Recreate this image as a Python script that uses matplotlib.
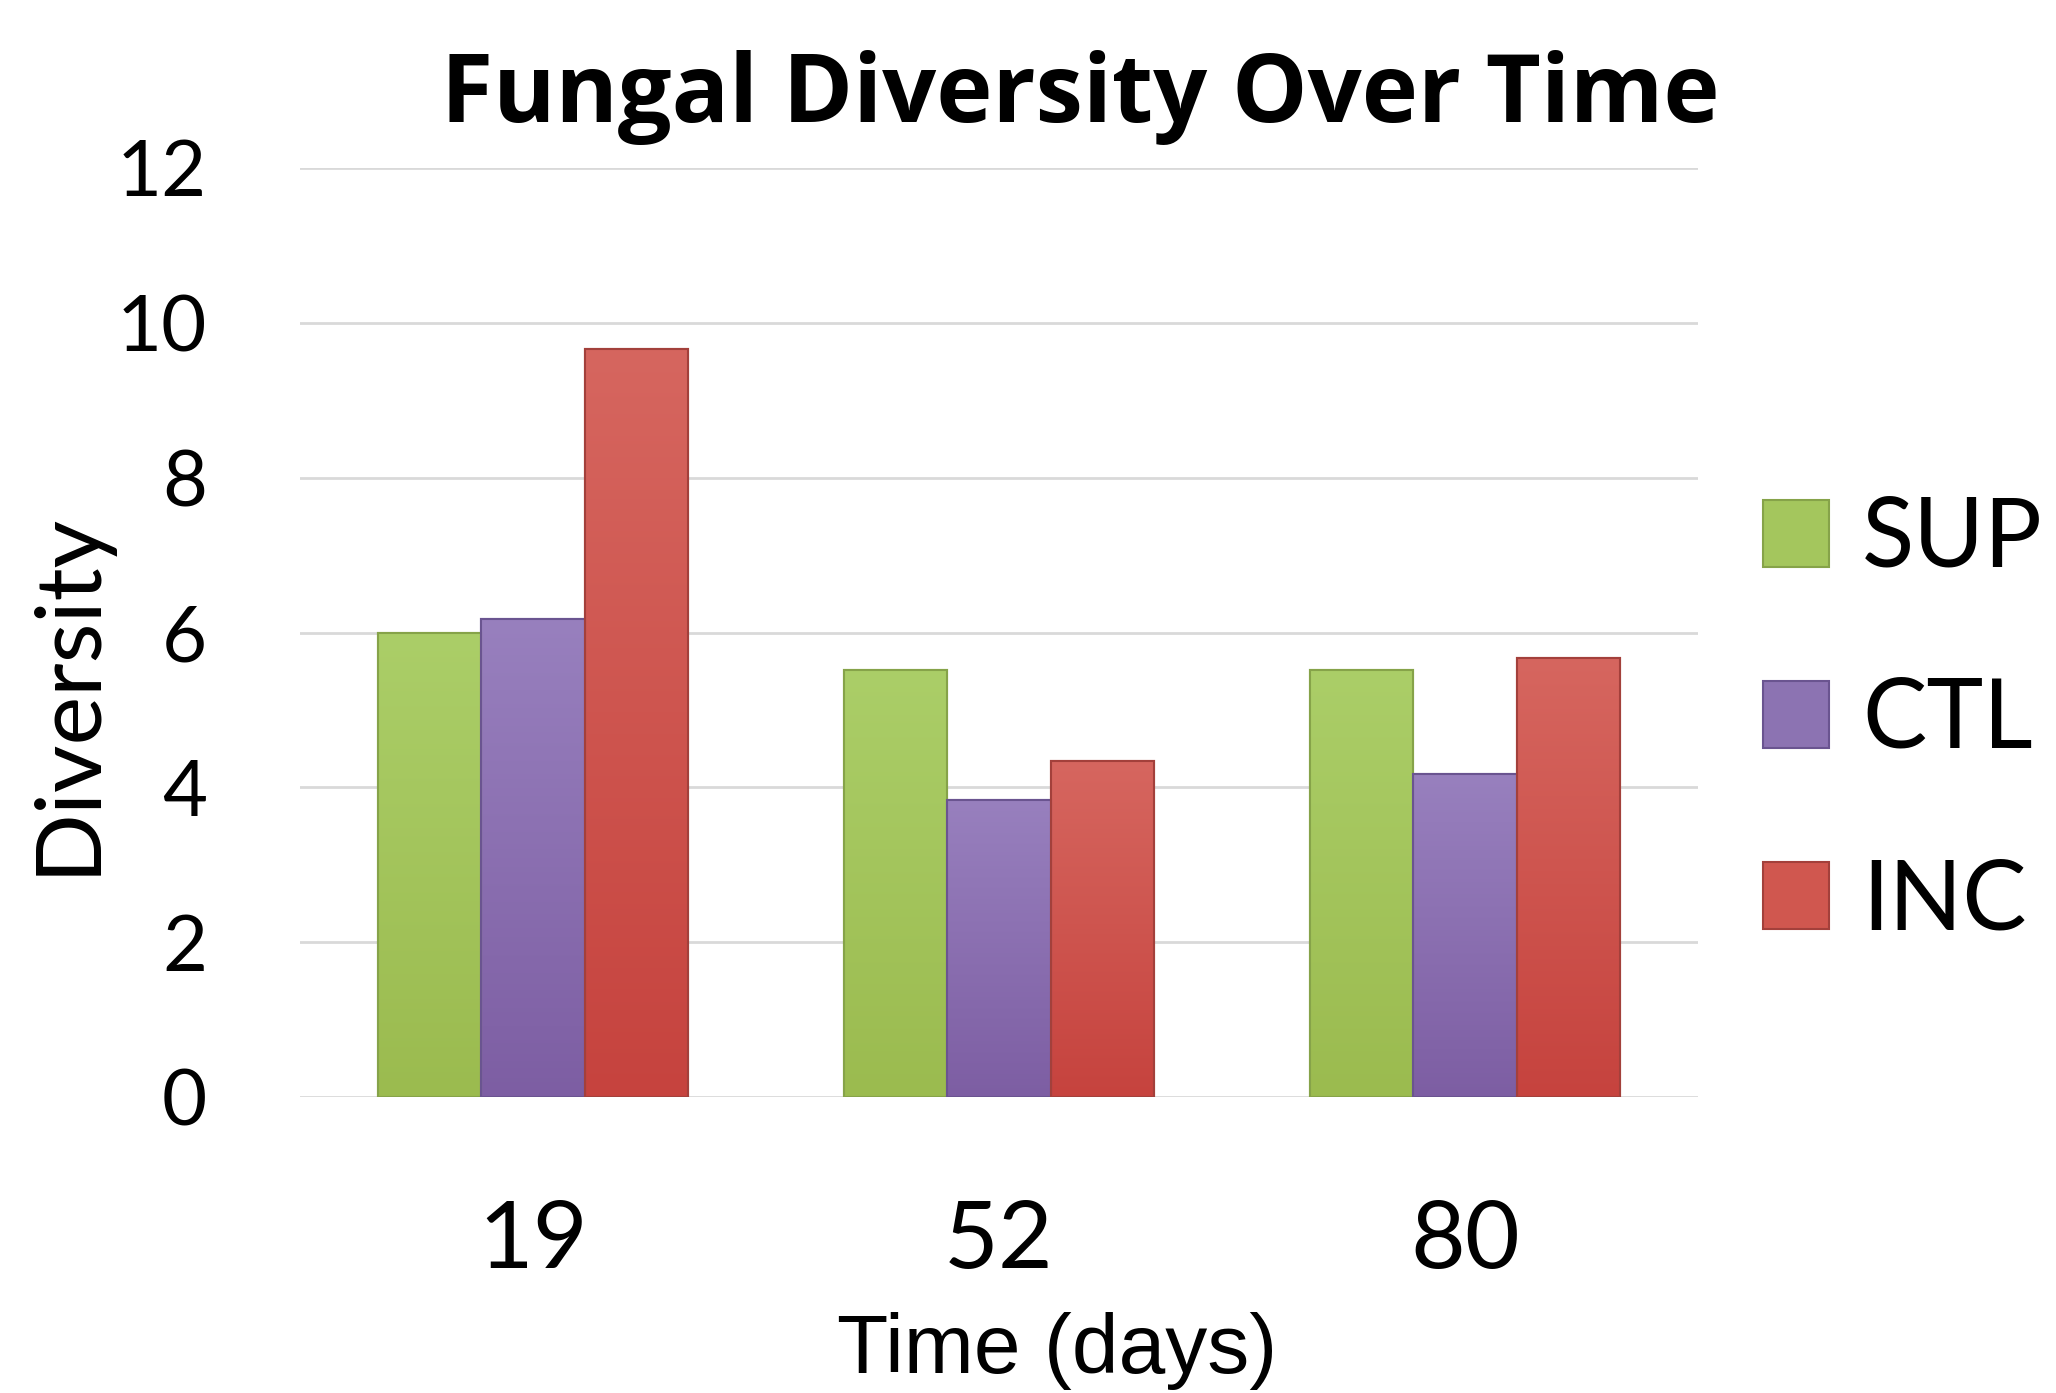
import matplotlib
matplotlib.use("Agg")
import matplotlib.pyplot as plt
import numpy as np
from matplotlib.colors import LinearSegmentedColormap

categories = ["19", "52", "80"]
series_names = ["SUP", "CTL", "INC"]
sup = [6.0, 5.52, 5.52]
ctl = [6.17, 3.84, 4.17]
inc = [9.66, 4.34, 5.67]
yticks = [0, 2, 4, 6, 8, 10, 12]

face = ["#A4C65D", "#8C73B2", "#D0574F"]
top_col = ["#ABCE68", "#9880BE", "#D6665F"]
bot_col = ["#9BBB4F", "#7D5EA3", "#C6433E"]
edge = ["#86A349", "#6A5490", "#A3403B"]

plt.rcParams['font.family'] = ['Lato', 'DejaVu Sans']

W, H = 2056, 1393
fig = plt.figure(figsize=(W / 100, H / 100), dpi=100)
renderer = fig.canvas.get_renderer()


def fit_size(s, target_px, **kw):
    t = fig.text(0, 0, s, fontsize=100, **kw)
    bb = t.get_window_extent(renderer)
    t.remove()
    return 100.0 * target_px / bb.width, bb.height / 100.0


ax = fig.add_axes([300 / W, 296 / H, 1398 / W, 929 / H])

x = np.arange(len(categories))
w = 0.222
for i, (vals, name) in enumerate(zip([sup, ctl, inc], series_names)):
    bars = ax.bar(x + (i - 1) * w, vals, width=w, color=face[i], edgecolor=edge[i],
                  linewidth=1.5, label=name, zorder=3)
    cmap = LinearSegmentedColormap.from_list("g%d" % i, [bot_col[i], top_col[i]])
    for p in bars.patches:
        x0, y0 = p.get_x(), p.get_y()
        bw, bh = p.get_width(), p.get_height()
        grad = np.linspace(0, 1, 256).reshape(-1, 1)
        im = ax.imshow(grad, extent=[x0, x0 + bw, y0, y0 + bh], origin="lower",
                       cmap=cmap, aspect="auto", zorder=3.5, interpolation="bilinear")
        im.set_clip_path(p)
    for p in bars.patches:
        ax.add_patch(plt.Rectangle((p.get_x(), p.get_y()), p.get_width(), p.get_height(),
                                   fill=False, edgecolor=edge[i], linewidth=1.5, zorder=4))

ax.set_xlim(-0.5, 2.5)
ax.set_ylim(0, 12)
ax.set_yticks(yticks)
ax.set_yticklabels([str(t) for t in yticks])
ax.set_xticks(x)
ax.set_xticklabels(categories)
ax.yaxis.grid(True, color="#D9D9D9", linewidth=2, zorder=0)
ax.set_axisbelow(True)
for s in ax.spines.values():
    s.set_visible(False)
ax.tick_params(axis='both', length=0)
ax.tick_params(axis='y', labelsize=56, pad=67)
ax.tick_params(axis='x', labelsize=68, pad=74)

# title
ts, _ = fit_size("Fungal Diversity Over Time", 1292, fontweight="bold",
                 family=["Open Sans", "DejaVu Sans"])
fig.text(1080 / W, 1 - 122 / H, "Fungal Diversity Over Time", ha="center", va="baseline",
         fontsize=ts * 0.99, fontweight="bold", family=["Open Sans", "DejaVu Sans"])

# x label
xs, _ = fit_size("Time (days)", 440, family=["Liberation Sans", "DejaVu Sans"])
fig.text(1057 / W, 1 - 1373 / H, "Time (days)", ha="center", va="baseline",
         fontsize=xs, family=["Liberation Sans", "DejaVu Sans"])

# y label
ys, _ = fit_size("Diversity", 364)
fig.text(68 / W, 1 - 693 / H, "Diversity", ha="center", va="center", rotation=90,
         fontsize=ys)

# legend
ls, hfac = fit_size("SUP", 181)
fs_px = ls * 100 / 72.0
text_h = hfac * ls
handle_px = 66.0
ax.legend(loc="center left", bbox_to_anchor=((1763 - 300) / 1398, (1097 - 721) / 929),
          frameon=False, fontsize=ls, handlelength=handle_px / fs_px,
          handleheight=handle_px / fs_px,
          labelspacing=(181 - text_h) / fs_px, handletextpad=33 / fs_px,
          borderaxespad=0, borderpad=0)

fig.savefig("out.png", dpi=100)
